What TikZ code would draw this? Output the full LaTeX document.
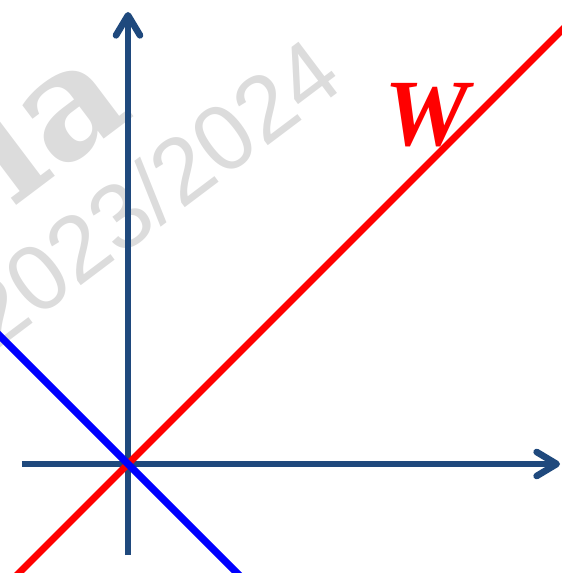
\documentclass[tikz,border=0pt]{standalone}
\usepackage{fontspec}
\usetikzlibrary{arrows.meta}
\newfontfamily\labelfont{Liberation Serif}
\newfontfamily\wmfont{Liberation Sans}
\newfontfamily\wmheavy{DejaVu Serif}
\definecolor{axisblue}{HTML}{1F497D}
\definecolor{wmgray}{HTML}{DCDCDC}

\begin{document}
\begin{tikzpicture}[line join=round]
\useasboundingbox (-2.56,-2.18) rectangle (8.68,9.28);
\clip (-2.56,-2.18) rectangle (8.68,9.28);
% watermark
\node[wmgray,rotate=37] (year) at (0.46,5.44) {\wmfont\fontsize{53}{53}\selectfont 2023/2024};
\node[wmgray,rotate=37] (wm) at (-1.75,6.95) {\wmheavy\bfseries\fontsize{86}{86}\selectfont la};
\coordinate (O) at (0,0);
\coordinate (X0) at (-2.12,0);
\coordinate (X1) at (8.64,0);
\coordinate (Y0) at (0,-1.82);
\coordinate (Y1) at (0,9.04);
\coordinate (R0) at (-2.5,-2.5);
\coordinate (R1) at (9,9);
\coordinate (B0) at (-3,3);
\coordinate (B1) at (2.5,-2.5);
\draw[line width=3.8pt, axisblue, -{Straight Barb[round,length=0.4cm,width=0.48cm]}] (X0) -- (X1);
\draw[line width=3.8pt, axisblue, -{Straight Barb[round,length=0.4cm,width=0.48cm]}] (Y0) -- (Y1);
\draw[line width=4pt, red] (R0) -- (R1);
\draw[line width=4.2pt, blue] (B0) -- (B1);
\node[red] (W) at (5.98,6.98) {\labelfont\bfseries\itshape\fontsize{54}{54}\selectfont W};
\end{tikzpicture}
\end{document}
